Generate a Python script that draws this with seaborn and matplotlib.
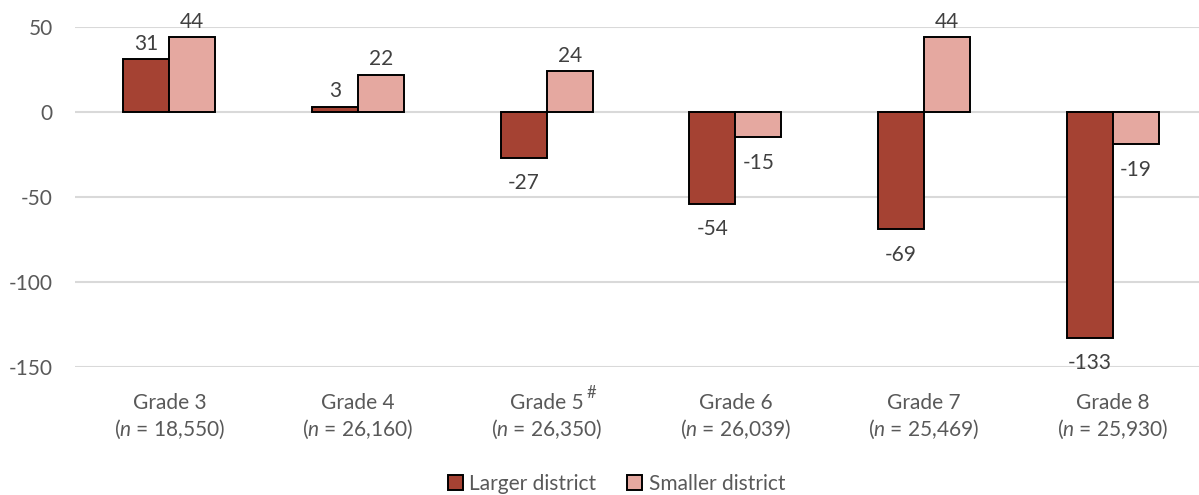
import matplotlib
matplotlib.use("Agg")
import matplotlib.pyplot as plt
from matplotlib.transforms import blended_transform_factory
import seaborn as sns
import pandas as pd

grades = ["Grade 3", "Grade 4", "Grade 5", "Grade 6", "Grade 7", "Grade 8"]
sample_sizes = ["18,550", "26,160", "26,350", "26,039", "25,469", "25,930"]
footnoted = ["Grade 5"]
larger = [31, 3, -27, -54, -69, -133]
smaller = [44, 22, 24, -15, 44, -19]
series = ["Larger district", "Smaller district"]
yticks = [50, 0, -50, -100, -150]

df = pd.DataFrame({
    "grade": grades * 2,
    "value": larger + smaller,
    "district": [series[0]] * len(grades) + [series[1]] * len(grades),
})

sns.set_theme(style="white")
plt.rcParams["font.family"] = ["Lato", "DejaVu Sans"]
plt.rcParams["mathtext.fontset"] = "custom"
plt.rcParams["mathtext.rm"] = "Lato"
plt.rcParams["mathtext.it"] = "Lato:italic"
plt.rcParams["mathtext.bf"] = "Lato:bold"

FS = 15
tick_color = "#595959"
label_color = "#404040"
palette = {"Larger district": "#A54233", "Smaller district": "#E5A8A0"}

fig = plt.figure(figsize=(11.99, 4.95), dpi=100)
ax = fig.add_axes([0.06255, 0.2586, 0.9441, 0.6869])

sns.barplot(
    data=df, x="grade", y="value", hue="district", order=grades,
    hue_order=series, palette=palette, saturation=1, width=0.488, gap=0,
    edgecolor="black", linewidth=1.4, errorbar=None, ax=ax, zorder=3,
    legend=False,
)

# value labels: above positive bars, below negative bars
for container in ax.containers:
    for rect in container:
        v = rect.get_height()
        x = rect.get_x() + rect.get_width() / 2
        if v >= 0:
            ax.annotate(f"{v:.0f}", (x, v), xytext=(0, 4), textcoords="offset points",
                        ha="center", va="bottom", fontsize=FS, color=label_color)
        else:
            ax.annotate(f"{v:.0f}", (x, v), xytext=(0, -11), textcoords="offset points",
                        ha="center", va="top", fontsize=FS, color=label_color)

ax.set_ylim(-150, 50)
ax.set_xlim(-0.5, len(grades) - 0.5)
ax.set_yticks(yticks)
ax.set_yticklabels([str(t) for t in yticks])
ax.set_xticks(range(len(grades)))
ax.set_xticklabels(grades)
ax.tick_params(axis="y", labelsize=FS, labelcolor=tick_color, length=0, pad=16)
ax.tick_params(axis="x", labelsize=FS, labelcolor=tick_color, length=0, pad=19)
ax.set_xlabel("")
ax.set_ylabel("")
ax.yaxis.grid(True, color="#D9D9D9", linewidth=1.5, zorder=0)
ax.set_axisbelow(True)
for s in ax.spines.values():
    s.set_visible(False)

trans = blended_transform_factory(ax.transData, ax.transAxes)

# second line of each category label: sample size
for i, n in enumerate(sample_sizes):
    ax.annotate(f"($n$ = {n})", (i, 0), xycoords=trans, xytext=(0, -45),
                textcoords="offset points", ha="center", va="center",
                fontsize=FS, color=tick_color, annotation_clip=False)

# superscript footnote marker after the grade name
fig.canvas.draw()
renderer = fig.canvas.get_renderer()
for g in footnoted:
    i = grades.index(g)
    probe = ax.text(0, 0, g, fontsize=FS)
    half_w = probe.get_window_extent(renderer).width / 2 * 72 / fig.dpi
    probe.remove()
    ax.annotate("#", (i, 0), xycoords=trans, xytext=(half_w + 2, -13),
                textcoords="offset points", ha="left", va="top",
                fontsize=12, color=tick_color, annotation_clip=False)

handles = [plt.Rectangle((0, 0), 1, 1, facecolor=palette[s], edgecolor="black",
                         linewidth=1.4) for s in series]
fig.legend(
    handles, series, loc="center", bbox_to_anchor=(616.5 / 1199, 1 - 484 / 495),
    ncol=2, frameon=False, fontsize=FS, labelcolor=tick_color,
    handlelength=0.72, handleheight=0.72, handletextpad=0.3, columnspacing=1.5,
    borderpad=0,
)

fig.savefig("out.png", dpi=100)
